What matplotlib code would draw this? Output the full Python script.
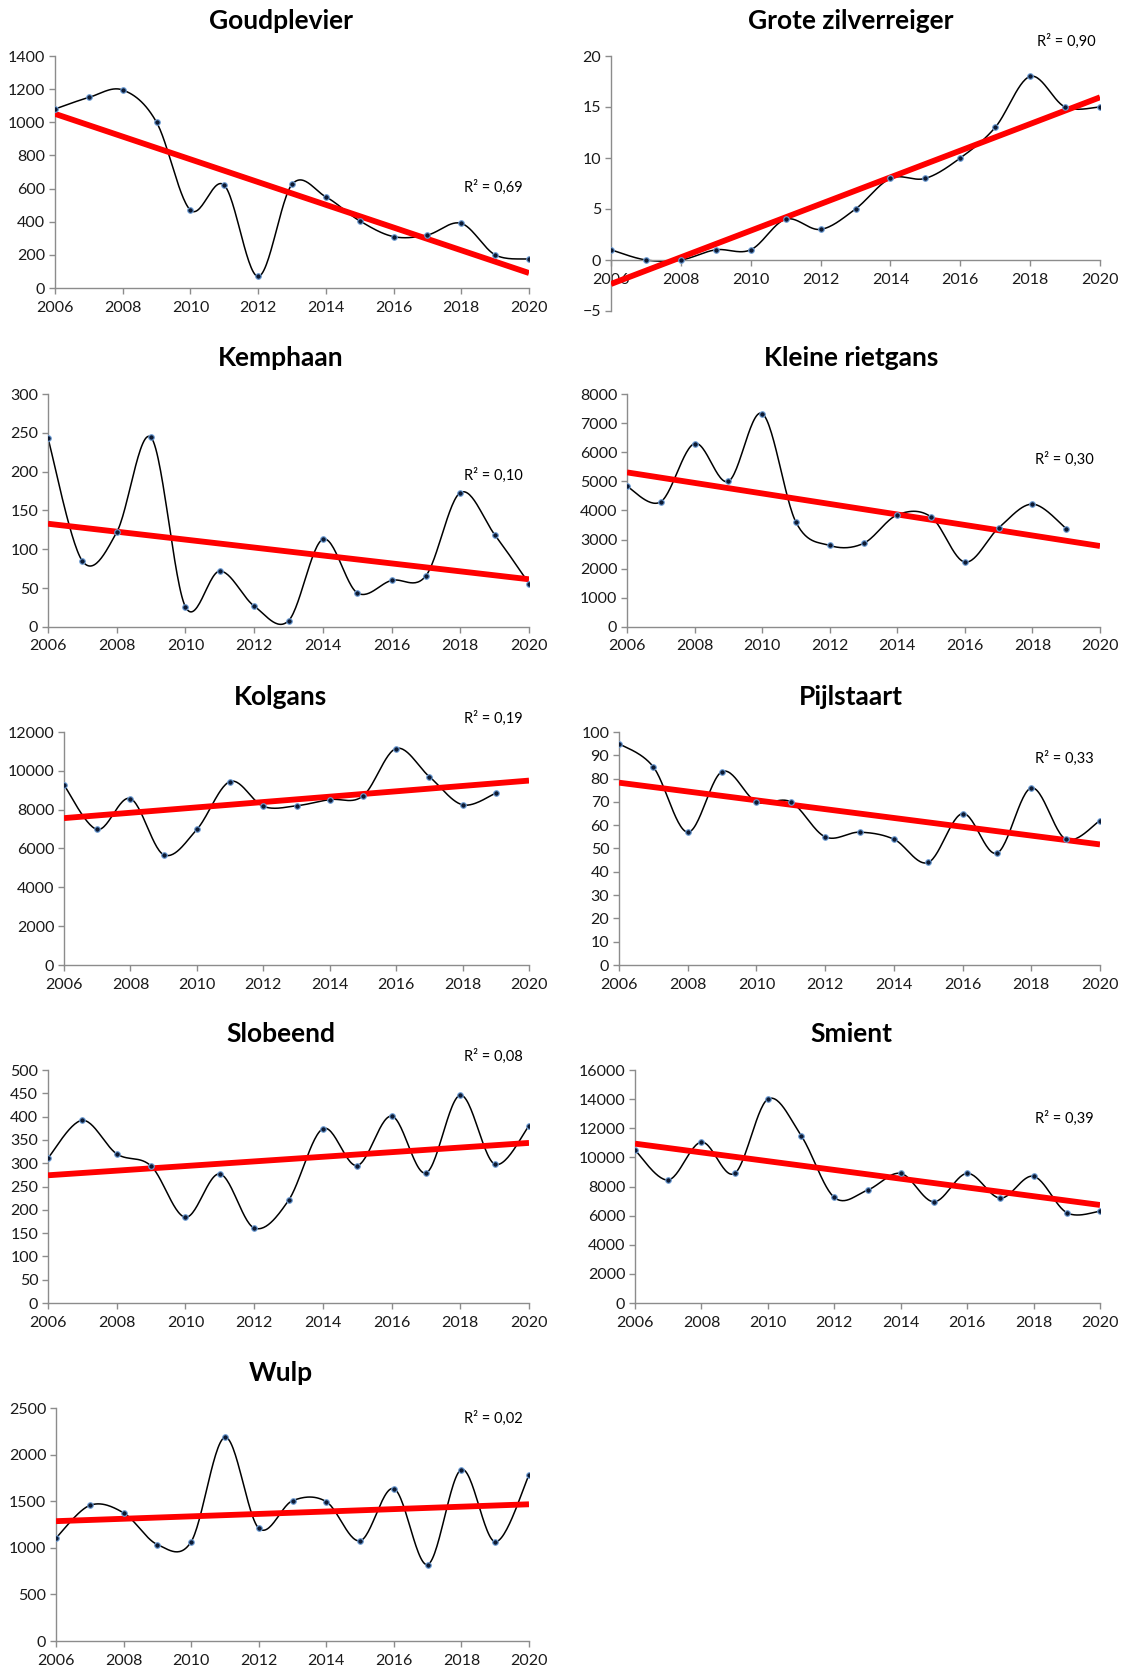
import numpy as np
import matplotlib
matplotlib.use("Agg")
import matplotlib.pyplot as plt

plt.rcParams['font.family'] = ['Lato', 'DejaVu Sans']

W, H = 1123, 1669

years = list(range(2006, 2021))

goudplevier = [1080, 1150, 1195, 1000, 470, 620, 70, 625, 550, 405, 310, 320, 390, 200, 175]
grote_zilverreiger = [1, 0, 0, 1, 1, 4, 3, 5, 8, 8, 10, 13, 18, 15, 15]
kemphaan = [243, 85, 122, 244, 26, 72, 27, 8, 113, 44, 60, 66, 173, 119, 56]
kleine_rietgans = [4830, 4300, 6300, 5000, 7330, 3600, 2800, 2870, 3850, 3780, 2230, 3400, 4220, 3380]
kolgans = [9270, 6980, 8570, 5680, 6980, 9450, 8170, 8200, 8520, 8700, 11150, 9700, 8250, 8850]
pijlstaart = [95, 85, 57, 83, 70, 70, 55, 57, 54, 44, 65, 48, 76, 54, 62]
slobeend = [311, 392, 320, 294, 184, 277, 161, 220, 374, 295, 401, 279, 446, 298, 380]
smient = [10500, 8450, 11050, 8900, 14000, 11500, 7250, 7750, 8900, 6950, 8900, 7200, 8700, 6200, 6300]
wulp = [1105, 1455, 1375, 1035, 1065, 2185, 1210, 1505, 1495, 1075, 1635, 820, 1840, 1065, 1780]

titles = ["Goudplevier", "Grote zilverreiger", "Kemphaan", "Kleine rietgans", "Kolgans",
          "Pijlstaart", "Slobeend", "Smient", "Wulp"]
series = [goudplevier, grote_zilverreiger, kemphaan, kleine_rietgans, kolgans,
          pijlstaart, slobeend, smient, wulp]
r2_labels = ["R² = 0,69", "R² = 0,90", "R² = 0,10", "R² = 0,30", "R² = 0,19",
             "R² = 0,33", "R² = 0,08", "R² = 0,39", "R² = 0,02"]
y_limits = [(0, 1400, 200), (-5, 20, 5), (0, 300, 50), (0, 8000, 1000), (0, 12000, 2000),
            (0, 100, 10), (0, 500, 50), (0, 16000, 2000), (0, 2500, 500)]

# pixel layout: (left, right, top, bottom) of axes, title centre, R² label centre
boxes = [(55, 529, 56, 288), (611, 1100, 56, 311), (48, 529, 394, 627), (627, 1100, 394, 627),
         (64, 529, 732, 965), (619, 1100, 732, 965), (48, 529, 1070, 1303), (635, 1100, 1070, 1303),
         (56, 529, 1408, 1641)]
title_pos = [(281, 21), (851, 21), (281, 358), (851, 358), (281, 697), (851, 697),
             (281, 1034), (851, 1034), (281, 1373)]
r2_pos = [(493, 187), (1066, 41), (493, 475), (1064, 459), (493, 718), (1064, 758),
          (493, 1056), (1064, 1118), (493, 1418)]


def smooth(x, y, n=30):
    # Bezier smoothing like the spreadsheet's "smoothed line"
    x = np.asarray(x, float)
    y = np.asarray(y, float)
    px = np.concatenate([[x[0]], x, [x[-1]]])
    py = np.concatenate([[y[0]], y, [y[-1]]])
    t = np.linspace(0, 1, n)[:, None]
    xs, ys = [], []
    for i in range(1, len(px) - 2):
        p0 = np.array([px[i], py[i]])
        p3 = np.array([px[i + 1], py[i + 1]])
        c1 = p0 + (np.array([px[i + 1], py[i + 1]]) - np.array([px[i - 1], py[i - 1]])) / 6
        c2 = p3 - (np.array([px[i + 2], py[i + 2]]) - p0) / 6
        b = ((1 - t) ** 3) * p0 + 3 * ((1 - t) ** 2) * t * c1 + 3 * (1 - t) * t ** 2 * c2 + t ** 3 * p3
        xs.append(b[:, 0])
        ys.append(b[:, 1])
    return np.concatenate(xs), np.concatenate(ys)


fig = plt.figure(figsize=(W / 100, H / 100), dpi=100)
axis_col = '#8c8c8c'

for i, (title, vals) in enumerate(zip(titles, series)):
    l, r, t, b = boxes[i]
    ax = fig.add_axes([l / W, 1 - b / H, (r - l) / W, (b - t) / H])
    x = np.array(years[:len(vals)])
    y = np.array(vals, float)

    sx, sy = smooth(x, y)
    ax.plot(sx, sy, color='black', lw=1.1, zorder=2)

    k, c = np.polyfit(x, y, 1)
    tx = np.array([2006, 2020])
    ax.plot(tx, k * tx + c, color='#ff0000', lw=4.2, solid_capstyle='butt', zorder=3)

    ax.scatter(x, y, s=16, color='#0d1a33', edgecolors='#6f9fd8', linewidths=0.8, zorder=4)

    lo, hi, step = y_limits[i]
    ax.set_ylim(lo, hi)
    ax.set_yticks(np.arange(lo, hi + step / 2, step))
    ax.set_xlim(2006, 2020)
    ax.set_xticks(range(2006, 2021, 2))

    for s in ['top', 'right']:
        ax.spines[s].set_visible(False)
    for s in ['left', 'bottom']:
        ax.spines[s].set_color(axis_col)
        ax.spines[s].set_linewidth(1.0)
    if lo < 0:
        ax.spines['bottom'].set_position(('data', 0))
    ax.tick_params(axis='both', colors=axis_col, labelcolor='#1a1a1a', labelsize=11.5,
                   length=4, width=1.0, direction='out')
    ax.tick_params(axis='y', pad=3)
    ax.tick_params(axis='x', pad=5)
    ax.patch.set_visible(False)

    tpx, tpy = title_pos[i]
    fig.text(tpx / W, 1 - tpy / H, title, ha='center', va='center',
             fontsize=19, fontweight='bold')
    rpx, rpy = r2_pos[i]
    fig.text(rpx / W, 1 - rpy / H, r2_labels[i], ha='center', va='center', fontsize=10.5)

fig.savefig("out.png", dpi=100)
